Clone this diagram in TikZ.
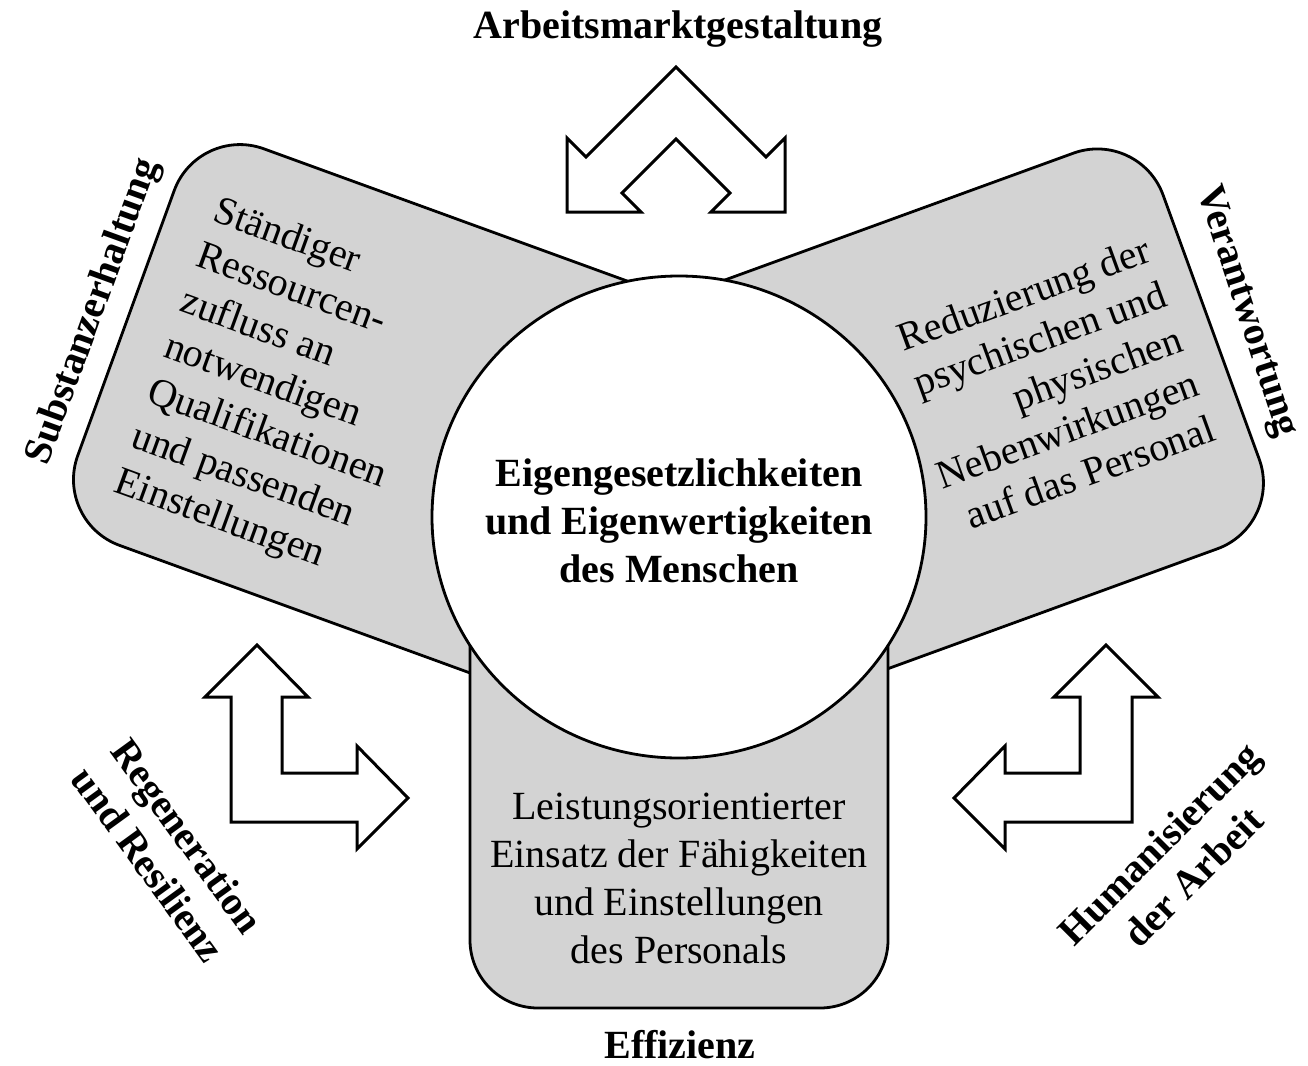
\documentclass[tikz,border=0pt]{standalone}
\usepackage{fontspec}
\setmainfont{Liberation Serif}
\usetikzlibrary{shapes.geometric}
\definecolor{panelgray}{RGB}{211,211,211}
\begin{document}
\begin{tikzpicture}[x=1pt,y=-1pt,
  panel/.style={draw=black, line width=2.8pt, fill=panelgray, rounded corners=70pt},
  bigarrow/.style={draw=black, line width=3pt, fill=white, line join=miter},
  core/.style={draw=black, line width=2.8pt, fill=white, ellipse, minimum width=494pt, minimum height=482pt, inner sep=0pt},
  lbl/.style={font=\bfseries\fontsize{40}{48}\selectfont, align=center, inner sep=0pt},
  ptext/.style={font=\fontsize{40}{48}\selectfont, inner sep=0pt}]
\useasboundingbox (0,0) rectangle (1308,1065);
\fill[white] (0,0) rectangle (1308,1065);

% left panel
\begin{scope}[shift={(679,517)}, rotate=-20, transform shape]
  \draw[panel] (-586,-204) rectangle (0,218);
  \node[ptext, align=left, anchor=west] (ltext) at (-541,16) {Ständiger\\Ressourcen-\\zufluss an\\notwendigen\\Qualifikationen\\und passenden\\Einstellungen};
\end{scope}

% right panel
\begin{scope}[shift={(679,517)}, rotate=20, transform shape]
  \draw[panel] (0,-207) rectangle (565,214);
  \node[ptext, font=\fontsize{40}{47.5}\selectfont, align=right, anchor=east] (rtext) at (533,3) {Reduzierung der\\psychischen und\\physischen\\Nebenwirkungen\\auf das Personal};
\end{scope}

% bottom panel
\draw[panel, rounded corners=68pt] (470,517) rectangle (888,1008);
\node[ptext, align=center] (btext) at (679,878) {Leistungsorientierter\\Einsatz der Fähigkeiten\\und Einstellungen\\des Personals};

% core circle
\node[core] (core) at (679,517) {};
\node[lbl] (ctext) at (679,521) {Eigengesetzlichkeiten\\und Eigenwertigkeiten\\des Menschen};

% top double arrow
\draw[bigarrow] (676,67) -- (766,157) -- (785,138) -- (785,212) -- (711,212) -- (730,193)
  -- (676,139) -- (622,193) -- (641,212) -- (567,212) -- (567,138) -- (586,157) -- cycle;

% left L arrow
\draw[bigarrow] (257,645) -- (308,697) -- (282,697) -- (282,773) -- (357,773) -- (357,746)
  -- (408,798) -- (357,849) -- (357,822) -- (231,822) -- (231,697) -- (205,697) -- cycle;

% right L arrow
\draw[bigarrow] (1106,645) -- (1158,697) -- (1132,697) -- (1132,822) -- (1005,822) -- (1005,849)
  -- (954,798) -- (1005,746) -- (1005,773) -- (1080,773) -- (1080,697) -- (1054,697) -- cycle;

% labels
\node[lbl, anchor=base] (arb) at (678,39) {Arbeitsmarktgestaltung};
\node[lbl, anchor=base] (eff) at (680,1058) {Effizienz};
\node[lbl, rotate=70] (sub) at (94,312) {Substanzerhaltung};
\node[lbl, rotate=-72] (ver) at (1246,312) {Verantwortung};
\node[lbl, rotate=-54] (reg) at (168,850) {Regeneration\\und Resilienz};
\node[lbl, rotate=45] (hum) at (1176,860) {Humanisierung\\der Arbeit};
\end{tikzpicture}
\end{document}
